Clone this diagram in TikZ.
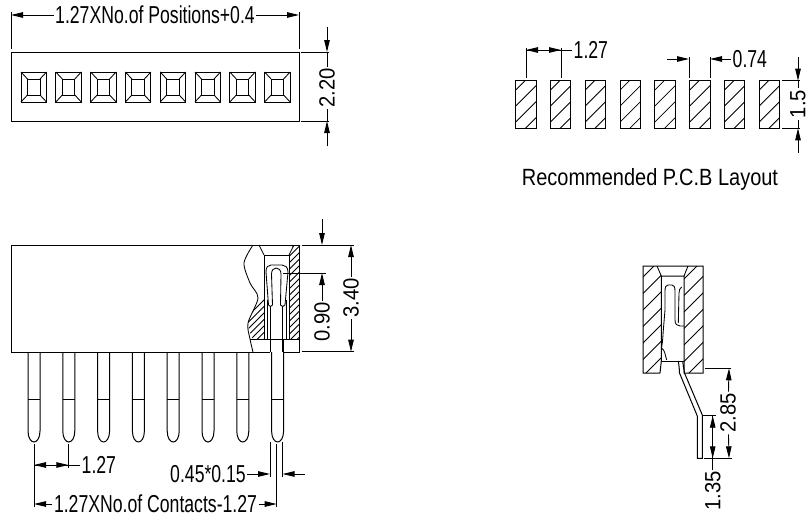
\documentclass[tikz,border=0pt]{standalone}
\usepackage{fontspec}
\setmainfont[FakeStretch=0.72]{Liberation Sans}
\newfontfamily\upfont[FakeStretch=0.92]{Liberation Sans}
\newfontfamily\capfont[FakeStretch=0.85]{Liberation Sans}
\usetikzlibrary{arrows.meta}
\tikzset{
 outline/.style={line width=1pt},
 thinline/.style={line width=0.85pt},
 hatchline/.style={line width=0.8pt},
 dimline/.style={line width=0.9pt},
 dimtip/.style={dimline,-{Triangle[length=12pt,width=5.5pt]}},
 dimtext/.style={font=\fontsize{24.5}{24.5}\selectfont,inner sep=1.5pt},
 uptext/.style={font=\upfont\fontsize{22}{22}\selectfont,inner sep=1.5pt,rotate=90},
}
\begin{document}
\begin{tikzpicture}[x=1pt,y=-1pt,line cap=butt]
 \useasboundingbox (0,0) rectangle (812,522);

 % top view
 \draw[outline] (11,52) rectangle (299,121);
 \foreach \v in {0,...,7} {
 \begin{scope}[shift={({34.8*\v},0)}]
  \draw[thinline] (21,72) rectangle (46.5,102);
  \draw[thinline] (27.5,79) rectangle (40,95);
  \draw[thinline] (21,72) -- (27.5,79) (46.5,72) -- (40,79)
   (21,102) -- (27.5,95) (46.5,102) -- (40,95);
 \end{scope}
 }
 \node[dimtext] (posn) at (155,15) {1.27XNo.of Positions+0.4};
 \coordinate (posnL) at (11,15);
 \coordinate (posnR) at (299,15);
 \draw[dimline] (11,12) -- (11,49) (299,12) -- (299,49);
 \draw[dimtip] (posn) -- (posnL);
 \draw[dimtip] (posn) -- (posnR);
 \node[uptext] (widthtxt) at (327,88) {2.20};
 \coordinate (widthT) at (327,52);
 \coordinate (widthB) at (327,121);
 \draw[dimline] (301,52) -- (329,52) (301,121) -- (329,121);
 \draw[dimtip] (327,27) -- (widthT);
 \draw[dimtip] (327,146) -- (widthB);
 \draw[dimline] (widthT) -- (widthtxt) (widthB) -- (widthtxt);

 % pcb layout
 \foreach \v in {0,...,7} {
 \begin{scope}[shift={({34.8*\v},0)}]
  \begin{scope}
   \clip (515.7,80.7) rectangle (536,128.3);
   \foreach \h in {0,...,5} {
    \draw[hatchline] (515.7,{90+16*\h}) -- ++(60,-60);
   }
  \end{scope}
  \draw[outline] (515.7,80.7) rectangle (536,128.3);
 \end{scope}
 }
 \node[dimtext,anchor=west] (pitchtop) at (572,50) {1.27};
 \coordinate (pitchL) at (526,50);
 \coordinate (pitchR) at (561,50);
 \draw[dimline] (526,48) -- (526,78) (561,48) -- (561,78);
 \draw[dimtip] (pitchR) -- (pitchL);
 \draw[dimtip] (pitchL) -- (pitchR);
 \draw[dimline] (pitchR) -- (pitchtop);
 \node[dimtext,anchor=west] (padtxt) at (731,59) {0.74};
 \coordinate (padL) at (689,59);
 \coordinate (padR) at (710,59);
 \draw[dimline] (689,57) -- (689,78) (710,57) -- (710,78);
 \draw[dimtip] (667,59) -- (padL);
 \draw[dimtip] (padtxt) -- (padR);
 \node[uptext] (padhtxt) at (798,104) {1.5};
 \coordinate (padT) at (798,80.7);
 \coordinate (padB) at (798,128.3);
 \draw[dimline] (782,80.7) -- (800,80.7) (782,128.3) -- (800,128.3);
 \draw[dimtip] (798,57) -- (padT);
 \draw[dimtip] (798,153) -- (padB);
 \draw[dimline] (padT) -- (padhtxt) (padB) -- (padhtxt);
 \node[dimtext,font=\capfont\fontsize{23.5}{23.5}\selectfont] (layouttxt) at (650,179) {Recommended P.C.B Layout};

 % front view
 \begin{scope}
  \clip plot[smooth] coordinates {(253,245) (244,263) (250,283) (258,298) (248,323) (253,339)}
   -- (264,339) -- (264,255) -- (259,245) -- cycle;
  \foreach \h in {0,...,24} {
   \draw[hatchline] ({225+6.5*\h},339) -- ++(100,-100);
  }
 \end{scope}
 \begin{scope}
  \clip (293,245) -- (299,245) -- (299,339) -- (289,339) -- (289,255) -- cycle;
  \foreach \h in {0,...,16} {
   \draw[hatchline] ({200+6.5*\h},339) -- ++(100,-100);
  }
 \end{scope}
 \draw[outline] (253,352) -- (11,352) -- (11,245) -- (299,245) -- (299,352) -- (283,352) -- (283,339)
  (270,352) -- (253,352);
 \draw[outline] (270,352) -- (270,339);
 \draw[thinline] (250,339) -- (299,339);
 \draw[thinline] plot[smooth] coordinates {(253,245) (244,263) (250,283) (258,298) (248,323) (250,339) (253,352)};
 \draw[outline] (264,339) -- (264,255) -- (289,255) -- (289,339);
 \draw[thinline] (259,245) -- (264,255) (294,245) -- (289,255);
 \draw[thinline] (267,339) -- (267,300) (286.5,339) -- (286.5,300);
 \draw[thinline] (268.5,305) -- (266,272) .. controls (266,267) and (268,265) .. (271,265)
  -- (282,265) .. controls (285,265) and (288,267) .. (288,272) -- (285,305);
 \draw[thinline] (268.5,305) .. controls (269,307) and (272,307) .. (272.5,305) -- (271.5,274)
  .. controls (271.5,266) and (281,266) .. (281,274) -- (280.5,305)
  .. controls (281,307) and (284.5,307) .. (285,305);
 \draw[thinline] (270,307) -- (270,352) (282.5,307) -- (282.5,352);
 \foreach \v in {0,...,7} {
 \begin{scope}[shift={({34.8*\v},0)}]
  \draw[outline] (28,352) -- (28,431) .. controls (28,438) and (31,442) .. (34,442)
   .. controls (37,442) and (40,438) .. (40,431) -- (40,352);
  \draw[thinline] (28,399) -- (40,399);
 \end{scope}
 }
 \node[uptext] (gaptxt) at (322,322) {0.90};
 \node[uptext] (heighttxt) at (351,298) {3.40};
 \coordinate (gapT) at (322,245);
 \coordinate (gapB) at (322,273);
 \coordinate (heightT) at (351,245);
 \coordinate (heightB) at (351,351.7);
 \draw[dimline] (301.5,245) -- (354,245) (301.5,351.7) -- (354,351.7) (283,273) -- (326,273);
 \draw[dimtip] (322,219) -- (gapT);
 \draw[dimtip] (gaptxt) -- (gapB);
 \draw[dimtip] (heighttxt) -- (heightT);
 \draw[dimtip] (heighttxt) -- (heightB);
 \node[dimtext,anchor=west] (pitchbot) at (80,465) {1.27};
 \coordinate (botL) at (34,465);
 \coordinate (botR) at (68.3,465);
 \draw[dimline] (34,444) -- (34,507) (68.3,444) -- (68.3,468) (276.7,444) -- (276.7,507);
 \draw[dimtip] (botR) -- (botL);
 \draw[dimtip] (botL) -- (botR);
 \draw[dimline] (botR) -- (pitchbot);
 \node[dimtext] (thicktxt) at (208,474) {0.45*0.15};
 \coordinate (thickL) at (270,474);
 \coordinate (thickR) at (282.5,474);
 \draw[dimline] (270,442) -- (270,477) (282.5,442) -- (282.5,477);
 \draw[dimtip] (thicktxt) -- (thickL);
 \draw[dimtip] (305,474) -- (thickR);
 \node[dimtext] (contacttxt) at (155.5,504) {1.27XNo.of Contacts-1.27};
 \coordinate (contactL) at (34,504);
 \coordinate (contactR) at (276.7,504);
 \draw[dimtip] (contacttxt) -- (contactL);
 \draw[dimtip] (contacttxt) -- (contactR);

 % side view
 \begin{scope}
  \clip (643,266) -- (657,266) -- (661.3,276) -- (661.3,361) -- (660,373) -- (643,373) -- cycle;
  \foreach \h in {0,...,10} {
   \draw[hatchline] (640,{280+16.5*\h}) -- ++(60,-60);
  }
 \end{scope}
 \begin{scope}
  \clip (688,266) -- (703,266) -- (703,373) -- (684,373) -- (684,276) -- cycle;
  \foreach \h in {0,...,10} {
   \draw[hatchline] (680,{283+16.5*\h}) -- ++(60,-60);
  }
 \end{scope}
 \draw[outline] (660,373) -- (643,373) -- (643,266) -- (703,266) -- (703,373) -- (684,373) -- (684,276)
  -- (661.3,276) -- (661.3,361) -- (660,373);
 \draw[thinline] (657,266) -- (661.3,276) (688,266) -- (684,276);
 \draw[thinline] (661.3,361) -- (684,361);
 \draw[thinline] (661.5,348) .. controls (665,350) and (665,355) .. (666.7,360);
 \draw[thinline] (661.5,348) .. controls (663,340) and (663,332) .. (663.5,328)
  -- (665,310) -- (665,291) .. controls (665,287) and (666,285) .. (668,285) -- (672,285)
  .. controls (674,285) and (675,287) .. (675,291) -- (675,320)
  .. controls (675,324) and (677,326) .. (680,326) -- (684,326);
 \draw[thinline] (681.7,287) .. controls (680,288) and (679,290) .. (679,293) -- (678.3,323);
 \draw[outline] (678.3,361) .. controls (679,366) and (679.5,369) .. (679.5,373)
  -- (697.3,416) -- (697.3,458.3) -- (702.3,458.3) -- (702.3,415) -- (684.5,373)
  .. controls (684,369) and (683,365) .. (682.7,361);
 \node[uptext] (leadtxt) at (728,413) {2.85};
 \node[uptext] (tailtxt) at (712.7,491) {1.35};
 \coordinate (leadT) at (729,368.3);
 \coordinate (leadB) at (729,458.3);
 \coordinate (tailT) at (712.7,415.7);
 \coordinate (tailB) at (712.7,458.3);
 \draw[dimline] (705,368.3) -- (731,368.3) (704,458.3) -- (732,458.3) (703,415.7) -- (716,415.7);
 \draw[dimtip] (leadtxt) -- (leadT);
 \draw[dimtip] (leadtxt) -- (leadB);
 \draw[dimtip] (tailB) -- (tailT);
 \draw[dimtip] (tailT) -- (tailB);
 \draw[dimline] (tailB) -- (tailtxt);
\end{tikzpicture}
\end{document}
